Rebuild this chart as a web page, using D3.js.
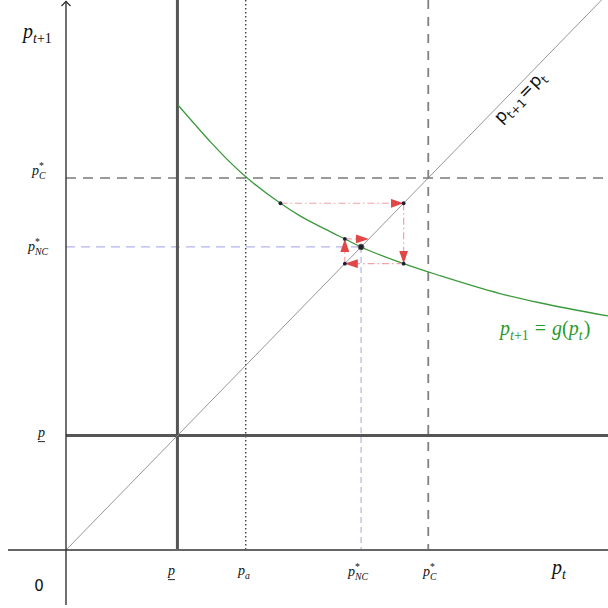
<!DOCTYPE html>
<html lang="en">
<head>
  <meta charset="UTF-8">
  <title>Cobweb diagram</title>
  <script src="https://d3js.org/d3.v7.min.js"></script>
  <style>
    html, body { margin: 0; padding: 0; background: #fff; }
    svg { display: block; }
  </style>
</head>
<body>
  <svg id="chart" width="608" height="608"></svg>

  <script>
    // reference levels (price units)
    const levelKeys   = ["pLow", "pA", "pNC", "pC"];
    const levelValues = [1.99, 3.21, 5.27, 6.47];

    // g(p)
    const curveP = [2.00, 3.21, 3.83, 4.18, 4.63, 4.98, 5.27, 6.03, 6.68, 7.75, 8.46, 9.68];
    const curveG = [7.74, 6.49, 6.03, 5.81, 5.58, 5.41, 5.27, 4.98, 4.77, 4.46, 4.30, 4.07];

    // cobweb iterates p0, p1 = g(p0), ...
    const iterates = [3.83, 6.03, 4.98, 5.41];

    const lv = {};
    levelKeys.forEach((k, i) => lv[k] = levelValues[i]);

    const svg = d3.select("#chart");
    const x = d3.scaleLinear().domain([0, 9.68]).range([66, 608]);
    const y = d3.scaleLinear().domain([0, 9.565]).range([550, 0]);

    const serif = "Liberation Serif, serif";
    const sans  = "DejaVu Sans, sans-serif";

    // arrowhead for the cobweb
    svg.append("defs")
      .append("marker")
        .attr("id", "tri")
        .attr("markerUnits", "userSpaceOnUse")
        .attr("viewBox", "0 0 13 9")
        .attr("refX", 13)
        .attr("refY", 4.5)
        .attr("markerWidth", 13)
        .attr("markerHeight", 9)
        .attr("orient", "auto")
      .append("path")
        .attr("d", "M0,0L13,4.5L0,9z")
        .attr("fill", "#e04848");

    // --- guide lines ---
    // p_C* horizontal + vertical
    svg.append("line")
      .attr("x1", x(0)).attr("x2", 608)
      .attr("y1", y(lv.pC)).attr("y2", y(lv.pC))
      .attr("stroke", "#7a7a7a").attr("stroke-width", 1.4)
      .attr("stroke-dasharray", "10,7");
    svg.append("line")
      .attr("x1", x(lv.pC)).attr("x2", x(lv.pC))
      .attr("y1", 0).attr("y2", y(0))
      .attr("stroke", "#808080").attr("stroke-width", 1.8)
      .attr("stroke-dasharray", "9,8");

    // p_NC* guides (light blue)
    svg.append("line")
      .attr("x1", x(0)).attr("x2", x(lv.pNC))
      .attr("y1", y(lv.pNC)).attr("y2", y(lv.pNC))
      .attr("stroke", "#b4b4ee").attr("stroke-width", 1.2)
      .attr("stroke-dasharray", "9,6");
    svg.append("line")
      .attr("x1", x(lv.pNC)).attr("x2", x(lv.pNC))
      .attr("y1", y(lv.pNC)).attr("y2", y(0))
      .attr("stroke", "#b4b4ee").attr("stroke-width", 1.2)
      .attr("stroke-dasharray", "6,4");

    // p_a dotted
    svg.append("line")
      .attr("x1", x(lv.pA)).attr("x2", x(lv.pA))
      .attr("y1", 0).attr("y2", y(0))
      .attr("stroke", "#333").attr("stroke-width", 1.3)
      .attr("stroke-dasharray", "1.5,2.5");

    // lower bound p (thick)
    svg.append("line")
      .attr("x1", x(lv.pLow)).attr("x2", x(lv.pLow))
      .attr("y1", 0).attr("y2", y(0))
      .attr("stroke", "#555").attr("stroke-width", 3);
    svg.append("line")
      .attr("x1", x(0)).attr("x2", 608)
      .attr("y1", y(lv.pLow)).attr("y2", y(lv.pLow))
      .attr("stroke", "#555").attr("stroke-width", 3);

    // 45 degree line
    svg.append("line")
      .attr("x1", x(0)).attr("y1", y(0))
      .attr("x2", x(9.68)).attr("y2", y(9.68))
      .attr("stroke", "#8a8a8a").attr("stroke-width", 0.9);

    // g(p)
    const gLine = d3.line()
      .x((d, i) => x(curveP[i]))
      .y(d => y(d))
      .curve(d3.curveMonotoneX);
    svg.append("path")
      .attr("d", gLine(curveG))
      .attr("fill", "none")
      .attr("stroke", "#3c9a3c")
      .attr("stroke-width", 1.3);

    // --- axes ---
    svg.append("line")
      .attr("x1", 8).attr("x2", 608)
      .attr("y1", y(0)).attr("y2", y(0))
      .attr("stroke", "#666").attr("stroke-width", 2);
    svg.append("line")
      .attr("x1", x(0)).attr("x2", x(0))
      .attr("y1", 1).attr("y2", 605)
      .attr("stroke", "#333").attr("stroke-width", 1.4);
    svg.append("path")
      .attr("d", `M${x(0) - 4.5},6L${x(0)},1.5L${x(0) + 4.5},6`)
      .attr("fill", "none").attr("stroke", "#333").attr("stroke-width", 1.3);

    // --- cobweb ---
    const segs = [];
    const dots = [];
    for (let i = 0; i < iterates.length - 1; i++) {
      const a = iterates[i], b = iterates[i + 1];
      dots.push([a, b]);
      // curve point -> diagonal
      segs.push([[a, b], [b, b]]);
      if (i < iterates.length - 2) {
        dots.push([b, b]);
        // diagonal -> curve
        segs.push([[b, b], [b, iterates[i + 2]]]);
      }
    }
    svg.append("g")
      .selectAll("line")
      .data(segs)
      .join("line")
        .attr("x1", d => x(d[0][0])).attr("y1", d => y(d[0][1]))
        .attr("x2", d => x(d[1][0])).attr("y2", d => y(d[1][1]))
        .attr("stroke", "#f2a2a2")
        .attr("stroke-width", 1.2)
        .attr("stroke-dasharray", "7,3,1.5,3")
        .attr("marker-end", "url(#tri)");

    svg.append("g")
      .selectAll("circle")
      .data(dots)
      .join("circle")
        .attr("cx", d => x(d[0])).attr("cy", d => y(d[1]))
        .attr("r", 1.9)
        .attr("fill", "#1c1c3c");

    // fixed point
    svg.append("circle")
      .attr("cx", x(lv.pNC)).attr("cy", y(lv.pNC))
      .attr("r", 3)
      .attr("fill", "#222").attr("stroke", "#777").attr("stroke-width", 0.8);

    // --- math-ish labels, one <text> each ---
    function mathText(x0, y0, parts, size, opts = {}) {
      const t = svg.append("text")
        .attr("x", 0).attr("y", 0)
        .style("font-family", opts.family || serif)
        .attr("font-size", size)
        .attr("fill", opts.color || "#111");
      let base = 0, lastW = 0;
      parts.forEach(p => {
        const pos = p.pos || "base";
        const s = pos === "base" ? size : size * 0.7;
        const off = pos === "sub" ? size * 0.26 : pos === "sup" ? -size * 0.4 : 0;
        const ts = t.append("tspan")
          .attr("font-size", s)
          .style("font-style", p.up || opts.upright ? "normal" : "italic")
          .text(p.t);
        if (off - base) ts.attr("dy", off - base);
        let dx = p.gap || 0;
        if (p.stack) dx -= lastW;
        if (dx) ts.attr("dx", dx);
        base = off;
        lastW = ts.node().getComputedTextLength();
      });
      if (opts.under) {
        const w = t.node().getComputedTextLength();
        svg.append("line")
          .attr("x1", x0).attr("x2", x0 + w)
          .attr("y1", y0 + size * 0.33).attr("y2", y0 + size * 0.33)
          .attr("stroke", "#111").attr("stroke-width", 0.9);
      }
      t.attr("transform", `translate(${x0},${y0})` + (opts.rotate ? ` rotate(${opts.rotate})` : ""));
      return t;
    }

    const pStar = sub => [{ t: "p" }, { t: sub, pos: "sub" }, { t: "*", pos: "sup", stack: true, up: true }];

    // y axis labels
    mathText(23, 38, [{ t: "p" }, { t: "t", pos: "sub" }, { t: "+1", pos: "sub", up: true }], 20);
    mathText(32, 175, pStar("C"), 14);
    mathText(28, 251, pStar("NC"), 14);
    mathText(38, 437, [{ t: "p" }], 14, { under: true });
    svg.append("text")
      .attr("x", 39).attr("y", 591)
      .attr("text-anchor", "middle")
      .style("font-family", sans).attr("font-size", 15)
      .attr("fill", "#111")
      .text("0");

    // x axis labels
    mathText(168, 575, [{ t: "p" }], 14, { under: true });
    mathText(238, 575, [{ t: "p" }, { t: "a", pos: "sub" }], 14);
    mathText(348, 576, pStar("NC"), 14);
    mathText(423, 576, pStar("C"), 14);
    mathText(552, 574, [{ t: "p" }, { t: "t", pos: "sub" }], 20);

    // g(p) label
    mathText(500, 335, [
      { t: "p" }, { t: "t", pos: "sub" }, { t: "+1", pos: "sub", up: true },
      { t: "=", up: true, gap: 6 },
      { t: "g", gap: 6 }, { t: "(", up: true }, { t: "p" }, { t: "t", pos: "sub" }, { t: ")", up: true, gap: 1 }
    ], 20, { color: "#2a9a2a" });

    // diagonal label
    const ang = Math.atan2(y(1) - y(0), x(1) - x(0)) * 180 / Math.PI;
    mathText(501, 124, [
      { t: "p" }, { t: "t+1", pos: "sub" }, { t: "=", gap: 1 }, { t: "p", gap: 1 }, { t: "t", pos: "sub" }
    ], 17, { family: sans, upright: true, rotate: ang });
  </script>
</body>
</html>
